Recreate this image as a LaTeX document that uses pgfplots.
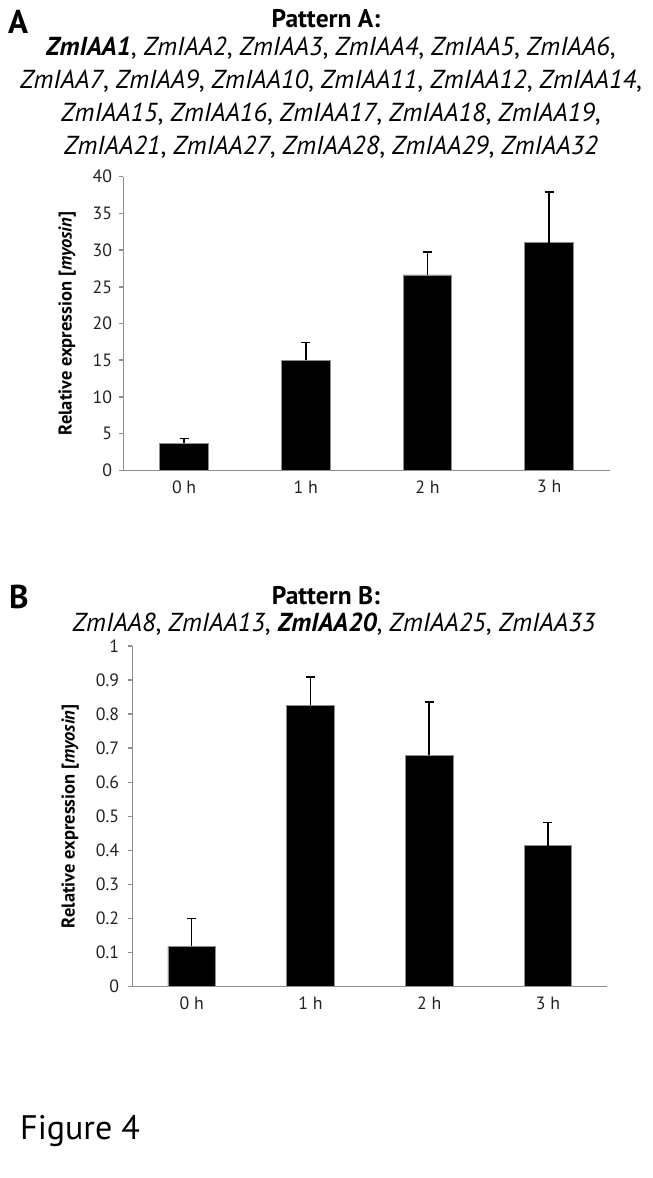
\documentclass[border=0pt]{standalone}
\usepackage{fontspec}
\setmainfont{PT Sans}
\usepackage{pgfplots}
\pgfplotsset{compat=1.18}
\definecolor{axgray}{HTML}{8E8E8E}
\definecolor{txt}{HTML}{222222}

\pgfplotstableread{
x y e
0 3.68 0.65
1 15.02 2.40
2 26.62 3.10
3 30.98 6.92
}\dataA
\pgfplotstableread{
x y e
0 0.118 0.083
1 0.826 0.083
2 0.679 0.157
3 0.414 0.068
}\dataB

\pgfplotsset{
  mybar/.style={
    scale only axis,
    ybar, bar width=0.4,
    xmin=-0.5, xmax=3.5, ymin=0,
    xtick={0,1,2,3}, xticklabels={0 h,1 h,2 h,3 h},
    axis x line*=bottom, axis y line*=left,
    axis line style={axgray, line width=1.5pt, -},
    xtick style={draw=none},
    ytick style={axgray, line width=1.5pt},
    tick align=outside, major tick length=4.7pt,
    tick label style={font=\fontsize{17.8}{19}\selectfont, text=txt},
    /pgf/number format/assume math mode=true,
    xticklabel style={yshift=-2pt},
    yticklabel style={xshift=-3pt},
    ylabel={\bfseries Relative expression [\textit{myosin}]},
    ylabel style={font=\fontsize{18.5}{20}\selectfont},
    clip=false,
  },
  mybars/.style={
    fill=black, draw=axgray, line width=0.8pt,
    error bars/.cd, y dir=plus, y explicit,
    error bar style={black, line width=1.4pt},
    error mark options={rotate=90, mark size=4.5pt, line width=1.4pt, black},
  }
}

\newcommand{\cm}{\upshape,\itshape{} }
\begin{document}
\begin{tikzpicture}[x=1pt,y=1pt]
\path[use as bounding box] (0,0) rectangle (653,1178);

% Panel A texts
\node[anchor=base west, inner sep=0pt, font=\fontsize{33}{36}\selectfont\bfseries] at (8,1144) {A};
\node[anchor=base, inner sep=0pt, font=\fontsize{25.5}{28}\selectfont\bfseries] at (326,1150) {Pattern A:};
\node[anchor=base, inner sep=0pt, font=\fontsize{26}{28}\selectfont\itshape] at (331,1122) {\textbf{ZmIAA1}\cm ZmIAA2\cm ZmIAA3\cm ZmIAA4\cm ZmIAA5\cm ZmIAA6\upshape,};
\node[anchor=base, inner sep=0pt, font=\fontsize{26}{28}\selectfont\itshape] at (331,1089) {ZmIAA7\cm ZmIAA9\cm ZmIAA10\cm ZmIAA11\cm ZmIAA12\cm ZmIAA14\upshape,};
\node[anchor=base, inner sep=0pt, font=\fontsize{26}{28}\selectfont\itshape] at (331,1056) {ZmIAA15\cm ZmIAA16\cm ZmIAA17\cm ZmIAA18\cm ZmIAA19\upshape,};
\node[anchor=base, inner sep=0pt, font=\fontsize{26}{28}\selectfont\itshape] at (331,1023) {ZmIAA21\cm ZmIAA27\cm ZmIAA28\cm ZmIAA29\cm ZmIAA32};

\begin{axis}[mybar, at={(123.3pt,707.7pt)}, anchor=south west,
  width=486.7pt, height=293.6pt, ymax=40, ytick={0,5,...,40},
  ylabel style={at={(axis description cs:0,0.5)}, anchor=center, yshift=56pt}]
\addplot[mybars] table[x=x, y=y, y error=e] {\dataA};
\end{axis}

% Panel B texts
\node[anchor=base west, inner sep=0pt, font=\fontsize{33}{36}\selectfont\bfseries] at (9,569) {B};
\node[anchor=base, inner sep=0pt, font=\fontsize{25.5}{28}\selectfont\bfseries] at (326,573) {Pattern B:};
\node[anchor=base, inner sep=0pt, font=\fontsize{26}{28}\selectfont\itshape] at (334,546) {ZmIAA8\cm ZmIAA13\cm \textbf{ZmIAA20}\cm ZmIAA25\cm ZmIAA33};

\begin{axis}[mybar, at={(132.3pt,191.3pt)}, anchor=south west,
  width=475pt, height=340.7pt, ymax=1, ytick={0,0.1,...,1.0},
  yticklabel style={/pgf/number format/fixed, /pgf/number format/precision=1, xshift=-2pt},
  ylabel style={at={(axis description cs:0,0.5)}, anchor=center, yshift=62pt}]
\addplot[mybars] table[x=x, y=y, y error=e] {\dataB};
\end{axis}

\node[anchor=base west, inner sep=0pt, font=\fontsize{34}{38}\selectfont] at (20,38) {Figure 4};
\end{tikzpicture}
\end{document}
